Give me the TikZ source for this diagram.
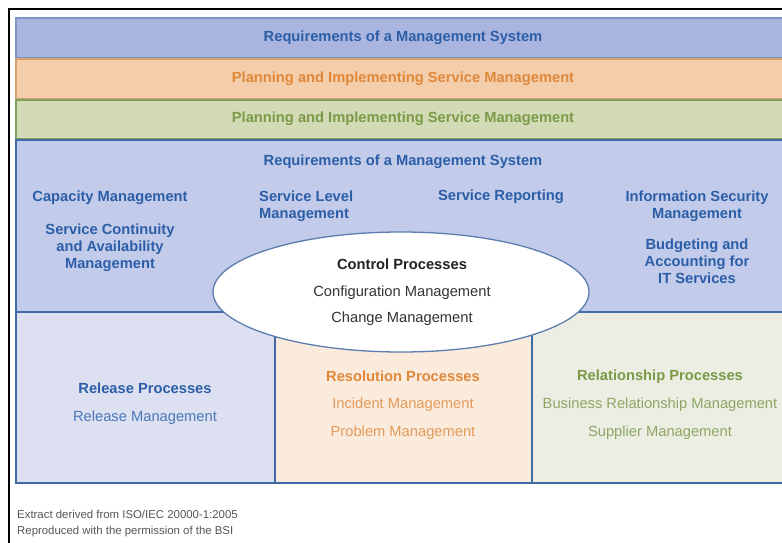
\documentclass[tikz,border=0pt]{standalone}
\usepackage{fontspec}
\setmainfont{Liberation Sans}
\usetikzlibrary{shapes.geometric}
\definecolor{bandA}{HTML}{A9B5DE}
\definecolor{bandAline}{HTML}{7F95C4}
\definecolor{bandB}{HTML}{F4CDAA}
\definecolor{bandBline}{HTML}{D9A070}
\definecolor{bandC}{HTML}{D2DBB5}
\definecolor{bandCline}{HTML}{7FA060}
\definecolor{regionfill}{HTML}{C2CBEA}
\definecolor{relfill}{HTML}{DCE0F1}
\definecolor{resfill}{HTML}{FBEBDC}
\definecolor{shipfill}{HTML}{EDEEE3}
\definecolor{edgeblue}{HTML}{3F6AA5}
\definecolor{ellline}{HTML}{5C7DAE}
\definecolor{txtblue}{HTML}{2C5EA8}
\definecolor{txtorange}{HTML}{E0883A}
\definecolor{txtgreen}{HTML}{7B9A47}
\definecolor{txtorangelt}{HTML}{E39A5A}
\definecolor{txtgreenlt}{HTML}{8DA664}
\definecolor{txtbluelt}{HTML}{4A78B8}
\definecolor{txtdark}{HTML}{222222}
\definecolor{txtgray}{HTML}{333333}
\definecolor{footgray}{HTML}{555555}
\newcommand\mainfs{\fontsize{14.7}{17}\selectfont}
\newcommand\footfs{\fontsize{11.4}{16}\selectfont}
\tikzset{
  lbl/.style={inner sep=0pt, anchor=base, font=\mainfs, align=center},
  hdr/.style={lbl, font=\mainfs\bfseries},
  band/.style={line width=1.2pt},
  sep/.style={draw=edgeblue, line width=1.5pt},
}
\begin{document}
\begin{tikzpicture}[x=1pt,y=-1pt]
\useasboundingbox (0,0) rectangle (782,543);
\clip (0,0) rectangle (782,543);
% outer frame (top and left)
\draw[line width=2pt] (9,544) -- (9,9.5) -- (783,9.5);
% bands
\filldraw[band, fill=bandA, draw=bandAline] (16,18) rectangle (790,58);
\filldraw[band, fill=bandB, draw=bandBline] (16,59) rectangle (790,99);
\filldraw[band, fill=bandC, draw=bandCline] (16,100) rectangle (790,139);
% main region
\filldraw[sep, fill=regionfill] (16,140) rectangle (790,312);
% bottom boxes
\filldraw[sep, fill=relfill] (16,312) rectangle (275,483);
\filldraw[sep, fill=resfill] (275,312) rectangle (532,483);
\filldraw[sep, fill=shipfill] (532,312) rectangle (790,483);
% control ellipse
\node[ellipse, draw=ellline, fill=white, line width=1.3pt, minimum width=376pt, minimum height=120pt, inner sep=0pt] (ctrl) at (401,292) {};

% band texts
\node[hdr, text=txtblue] (req1) at (403,42) {Requirements of a Management System};
\node[hdr, text=txtorange] (plan1) at (403,83) {Planning and Implementing Service Management};
\node[hdr, text=txtgreen] (plan2) at (403,122) {Planning and Implementing Service Management};
% region texts (multi-line nodes: base = last line)
\node[hdr, text=txtblue] (req2) at (403,165) {Requirements of a Management System};
\node[hdr, text=txtblue] (cap) at (110,201) {Capacity Management};
\node[hdr, text=txtblue] (cont) at (110,268) {Service Continuity\\and Availability\\Management};
\node[hdr, text=txtblue, anchor=base west, align=left] (slm) at (259,218) {Service Level\\Management};
\node[hdr, text=txtblue] (rep) at (501,200) {Service Reporting};
\node[hdr, text=txtblue] (sec) at (697,218) {Information Security\\Management};
\node[hdr, text=txtblue] (bud) at (697,283) {Budgeting and\\Accounting for\\IT Services};
% ellipse texts
\node[hdr, text=txtdark] (ctrlh) at (402,269) {Control Processes};
\node[lbl, text=txtgray] (conf) at (402,296) {Configuration Management};
\node[lbl, text=txtgray] (chg) at (402,322) {Change Management};
% bottom texts
\node[hdr, text=txtblue] (relh) at (145,393) {Release Processes};
\node[lbl, text=txtbluelt] (relm) at (145,421) {Release Management};
\node[hdr, text=txtorange] (resh) at (403,381) {Resolution Processes};
\node[lbl, text=txtorangelt] (inc) at (403,408) {Incident Management};
\node[lbl, text=txtorangelt] (prob) at (403,436) {Problem Management};
\node[hdr, text=txtgreen] (shiph) at (660,380) {Relationship Processes};
\node[lbl, text=txtgreenlt] (brm) at (660,408) {Business Relationship Management};
\node[lbl, text=txtgreenlt] (sup) at (660,436) {Supplier Management};
% footer
\node[inner sep=0pt, anchor=base west, align=left, font=\footfs, text=footgray] (foot) at (17,534) {Extract derived from ISO/IEC 20000-1:2005\\Reproduced with the permission of the BSI};
\end{tikzpicture}
\end{document}
